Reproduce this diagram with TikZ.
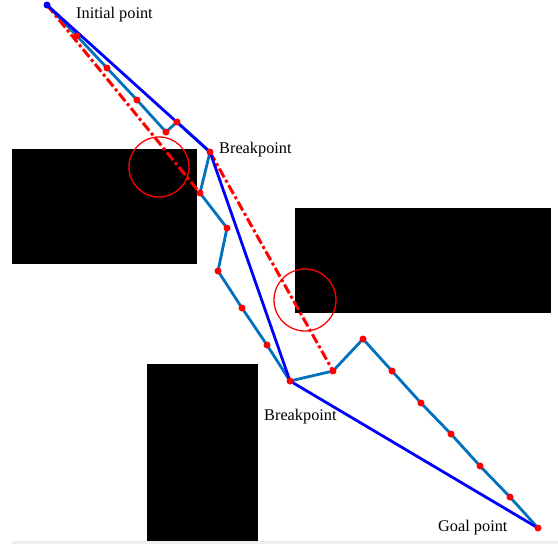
\documentclass[tikz,border=0pt]{standalone}
\usepackage{fontspec}
\setmainfont{Liberation Serif}
\definecolor{pathteal}{RGB}{0,114,189}
\definecolor{bandgray}{RGB}{238,238,238}
\begin{document}
\begin{tikzpicture}[x=1pt,y=-1pt,
  obstacle/.style={fill=black,draw=none},
  planned/.style={draw=pathteal,line width=2.8pt,line join=round},
  direct/.style={draw=blue,line width=2.8pt,line join=round},
  straight/.style={draw=red,line width=3pt,dash pattern=on 10pt off 3pt on 3pt off 3pt},
  collision/.style={draw=red,line width=1.3pt},
  reddot/.style={circle,fill=red,inner sep=0pt,minimum size=7pt},
  bluedot/.style={circle,fill=blue,inner sep=0pt,minimum size=7pt},
  lbl/.style={anchor=west,inner sep=0pt,font=\fontsize{16.3}{19}\selectfont}]
\useasboundingbox (0,0) rectangle (558,544);
\fill[white] (0,0) rectangle (558,544);
\fill[bandgray] (12,541) rectangle (558,544);
% obstacles
\fill[obstacle] (12,149) rectangle (197,264);
\fill[obstacle] (295,208) rectangle (551,313);
\fill[obstacle] (147,364) rectangle (258,541);
% path points
\coordinate (S) at (47,5);
\coordinate (p1) at (77,36);
\coordinate (p2) at (107,68);
\coordinate (p3) at (137,100);
\coordinate (p4) at (166,132);
\coordinate (p5) at (177,122);
\coordinate (B1) at (210,152);
\coordinate (q1) at (200,193);
\coordinate (q2) at (227,228);
\coordinate (q3) at (218,271);
\coordinate (q4) at (242,308);
\coordinate (q5) at (267,345);
\coordinate (B2) at (290,381);
\coordinate (r1) at (333,371);
\coordinate (r2) at (363,339);
\coordinate (r3) at (392,371);
\coordinate (r4) at (421,403);
\coordinate (r5) at (451,434);
\coordinate (r6) at (480,466);
\coordinate (r7) at (510,497);
\coordinate (G) at (538,528);
% planned path
\draw[planned] (S) -- (p1) -- (p2) -- (p3) -- (p4) -- (p5) -- (B1) -- (q1) -- (q2) -- (q3) -- (q4) -- (q5) -- (B2) -- (r1) -- (r2) -- (r3) -- (r4) -- (r5) -- (r6) -- (r7) -- (G);
% straight connections
\draw[straight] (S) -- (q1);
\draw[straight] (B1) -- (r1);
% breakpoint path
\draw[direct] (S) -- (B1) -- (B2) -- (G);
% collision circles
\draw[collision] (159,167) circle[radius=30];
\draw[collision] (305,300) circle[radius=31];
% dots
\foreach \p in {p1,p2,p3,p4,p5,B1,q1,q2,q3,q4,q5,B2,r1,r2,r3,r4,r5,r6,r7,G}
  \node[reddot] at (\p) {};
\node[bluedot] at (S) {};
% labels
\node[lbl] (tS) at (76,15) {Initial point};
\node[lbl] (tB1) at (219,150) {Breakpoint};
\node[lbl] (tB2) at (264,417) {Breakpoint};
\node[lbl] (tG) at (438,528) {Goal point};
\end{tikzpicture}
\end{document}
